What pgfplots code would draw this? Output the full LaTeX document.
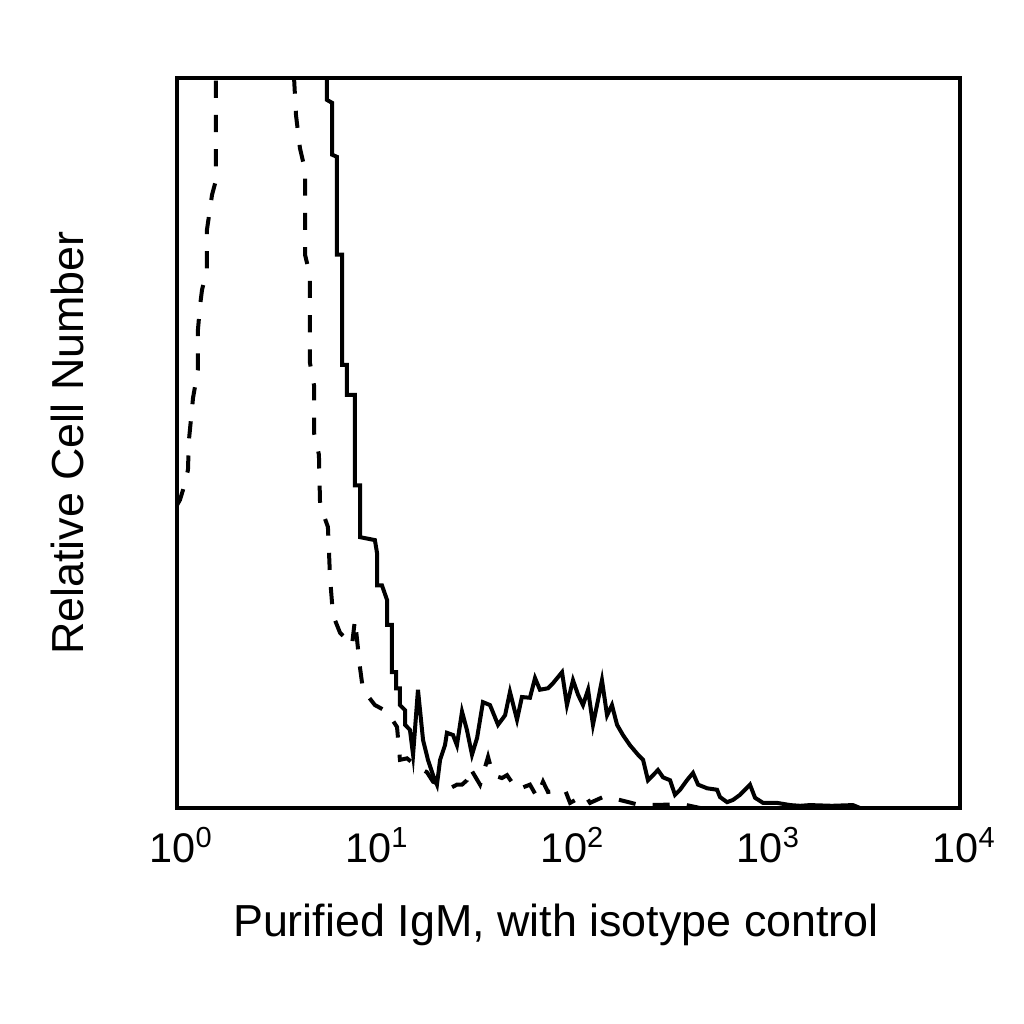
\documentclass[border=0pt]{standalone}
\usepackage{pgfplots}
\pgfplotsset{compat=1.18}
\usepackage{fontspec}
\setmainfont{Liberation Sans}

% x in decades (log10 of intensity), y in % of axis height
\begin{document}
\begin{tikzpicture}
\useasboundingbox (-61.95pt,-75.6pt) rectangle (296.45pt,282.8pt);
\begin{axis}[
  scale only axis, width=274.05pt, height=255.5pt,
  xmin=0, xmax=4, ymin=0, ymax=100,
  axis line style={line width=1.6pt},
  xtick={0,1,2,3,4},
  xticklabels={10\textsuperscript{0},10\textsuperscript{1},10\textsuperscript{2},10\textsuperscript{3},10\textsuperscript{4}},
  major tick length=0pt,
  ytick=\empty,
  tick label style={font=\fontsize{14.5}{17}\selectfont},
  xticklabel style={anchor=base, yshift=-18.9pt, xshift=1.5pt},
  /pgf/number format/assume math mode=true,
  xlabel={Purified IgM, with isotype control},
  ylabel={Relative Cell Number},
  label style={font=\fontsize{15.7}{18}\selectfont},
  xlabel style={at={(axis description cs:0.484,-0.1767)}, anchor=base},
  ylabel style={at={(axis description cs:-0.1405,0.5)}, anchor=center},
]
% stained (solid)
\addplot[black, line width=1.4pt] coordinates {
(0.766,130) (0.766,97.0) (0.792,96.6) (0.792,89.5) (0.817,89.2) (0.817,75.8)
(0.843,75.8) (0.843,60.7) (0.868,60.7) (0.868,56.6) (0.909,56.6) (0.909,44.2)
(0.935,44.2) (0.935,37.1) (1.011,36.7) (1.022,34.9) (1.022,30.5) (1.047,30.5)
(1.073,28.5) (1.073,25.1) (1.098,25.1) (1.098,18.6) (1.119,18.6) (1.119,16.4)
(1.139,16.4) (1.139,14.1) (1.165,13.4) (1.165,11.4) (1.190,10.7) (1.206,7.3)
(1.231,16.2) (1.257,9.3) (1.282,6.6) (1.308,4.5) (1.328,3.2) (1.344,6.6)
(1.369,8.6) (1.379,10.3) (1.410,10.0) (1.430,8.6) (1.456,13.2) (1.481,10.7)
(1.507,7.3) (1.533,9.6) (1.563,14.5) (1.599,14.1) (1.640,11.4) (1.676,12.7)
(1.701,15.9) (1.737,12.1) (1.762,15.2) (1.803,15.1) (1.829,17.8) (1.854,16.2)
(1.895,16.4) (1.921,17.1) (1.967,18.6) (1.992,14.1) (2.023,17.5) (2.049,15.5)
(2.074,14.1) (2.100,16.2) (2.125,11.4) (2.151,14.8) (2.171,17.5) (2.197,12.7)
(2.222,14.1) (2.248,11.4) (2.278,10.0) (2.314,8.6) (2.355,7.3) (2.381,6.6)
(2.406,3.8) (2.432,4.5) (2.457,5.2) (2.483,4.2) (2.519,3.8) (2.544,1.8)
(2.570,2.5) (2.605,3.8) (2.636,4.8) (2.662,3.2) (2.708,2.7) (2.759,2.5)
(2.774,1.5) (2.810,0.8) (2.840,1.1) (2.876,1.8) (2.927,3.2) (2.953,1.4)
(2.994,0.7) (3.065,0.7) (3.132,0.4) (3.183,0.3) (3.234,0.4) (3.346,0.3)
(3.453,0.4) (3.489,0) (4.0,0)
};
% isotype control (dashed)
\addplot[black, line width=1.4pt, dash pattern=on 6pt off 6pt] coordinates {
(0.000,41.5) (0.015,42.2) (0.031,43.6) (0.056,46.3) (0.061,50.4) (0.082,56.2)
(0.107,60.0) (0.107,65.5) (0.118,68.9) (0.128,71.0) (0.153,73.7) (0.153,79.2)
(0.179,84.0) (0.199,86.0) (0.199,100) (0.30,150) (0.50,150) (0.598,100)
(0.608,94.9) (0.628,90.4) (0.654,87.4) (0.654,75.8) (0.679,73.0) (0.679,61.0)
(0.700,57.9) (0.700,51.4) (0.725,48.4) (0.731,41.5) (0.771,38.5) (0.782,31.5)
(0.797,26.4) (0.833,24.0) (0.894,22.3) (0.909,25.8) (0.935,19.2) (0.950,16.2)
(1.011,14.1) (1.073,13.2) (1.124,11.1) (1.139,6.6) (1.175,6.8) (1.231,5.6)
(1.277,4.9) (1.308,3.6) (1.395,2.7) (1.430,3.2) (1.456,3.2) (1.481,3.8)
(1.497,5.5) (1.548,3.2) (1.589,7.0) (1.614,4.5) (1.660,4.1) (1.686,4.5)
(1.737,2.5) (1.803,3.2) (1.839,1.5) (1.870,3.6) (1.895,2.2) (1.982,2.5)
(2.008,0.7) (2.084,1.8) (2.110,0.7) (2.176,1.5) (2.248,1.2) (2.350,0.5)
(2.401,0.4) (2.585,0.5) (2.672,0) (4.0,0)
};
\end{axis}
\end{tikzpicture}
\end{document}
